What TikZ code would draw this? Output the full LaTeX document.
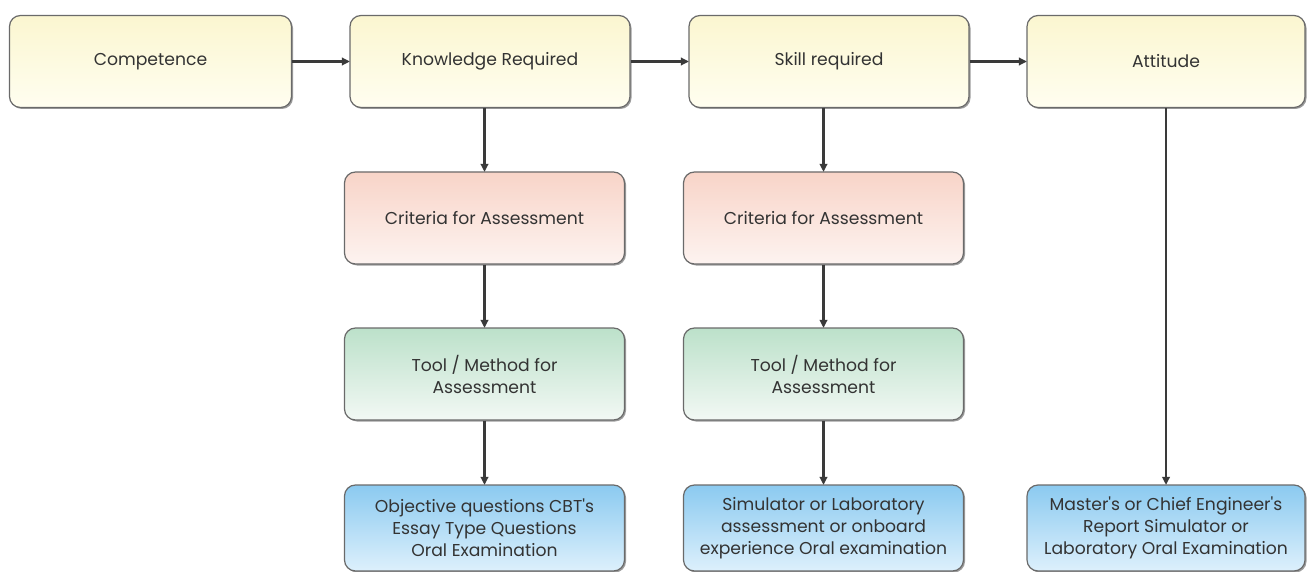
\documentclass[tikz,border=0pt]{standalone}
\usepackage{fontspec}
\setmainfont{Poppins}[Ligatures=TeXOff]
\usetikzlibrary{arrows.meta,shadows}
\definecolor{txt}{HTML}{333333}
\definecolor{edge}{HTML}{6A6A6A}
\definecolor{arr}{HTML}{3A3A3A}
\definecolor{yT}{HTML}{FBF6D0}
\definecolor{yB}{HTML}{FFFEF0}
\definecolor{pT}{HTML}{F8D4C8}
\definecolor{pB}{HTML}{FDF3F0}
\definecolor{gT}{HTML}{BCE1CA}
\definecolor{gB}{HTML}{F2F8F4}
\definecolor{bT}{HTML}{8BCAF0}
\definecolor{bB}{HTML}{DDF0FC}
\tikzset{
  box/.style={draw=edge, line width=1.2pt, rounded corners=11pt, inner sep=0pt,
    minimum width=280pt, minimum height=92pt, align=center, text=txt,
    font=\fontsize{17.2}{22}\selectfont,
    drop shadow={shadow xshift=1.5pt, shadow yshift=-1.5pt, opacity=0.55, fill=black!70}},
  ybox/.style={box, top color=yT, bottom color=yB},
  pbox/.style={box, top color=pT, bottom color=pB},
  gbox/.style={box, top color=gT, bottom color=gB},
  bbox/.style={box, top color=bT, bottom color=bB, minimum height=86pt},
  conn/.style={draw=arr, line width=2.6pt, -{Triangle[length=8pt,width=7.5pt]}, shorten >=-0.5pt}
}
\begin{document}
\begin{tikzpicture}[x=1pt,y=-1pt]
\useasboundingbox (0,0) rectangle (1312,572);
\clip (0,0) rectangle (1312,572);
\fill[white] (0,0) rectangle (1312,572);
% top row
\node[ybox, minimum width=282pt] (comp) at (150.5,61.5) {Competence};
\node[ybox] (know) at (490,61.5) {Knowledge Required};
\node[ybox] (skill) at (829,61.5) {Skill required};
\node[ybox, minimum width=278pt] (att) at (1166,61.5) {Attitude};
% criteria
\node[pbox] (crit1) at (484.5,218) {Criteria for Assessment};
\node[pbox] (crit2) at (823.5,218) {Criteria for Assessment};
% tools
\node[gbox] (tool1) at (484.5,374) {Tool / Method for\\Assessment};
\node[gbox] (tool2) at (823.5,374) {Tool / Method for\\Assessment};
% bottom
\node[bbox] (res1) at (484.5,528) {Objective questions CBT's\\Essay Type Questions\\Oral Examination};
\node[bbox] (res2) at (823.5,528) {Simulator or Laboratory\\assessment or onboard\\experience Oral examination};
\node[bbox, minimum width=278pt] (res3) at (1166,528) {Master's or Chief Engineer's\\Report Simulator or\\Laboratory Oral Examination};
% connectors
\draw[conn] (comp.east) -- (know.west);
\draw[conn] (know.east) -- (skill.west);
\draw[conn] (skill.east) -- (att.west);
\draw[conn] (crit1.north |- know.south) -- (crit1.north);
\draw[conn] (crit2.north |- skill.south) -- (crit2.north);
\draw[conn] (crit1) -- (tool1);
\draw[conn] (crit2) -- (tool2);
\draw[conn] (tool1) -- (res1);
\draw[conn] (tool2) -- (res2);
\draw[conn] (att) -- (res3);
\end{tikzpicture}
\end{document}
